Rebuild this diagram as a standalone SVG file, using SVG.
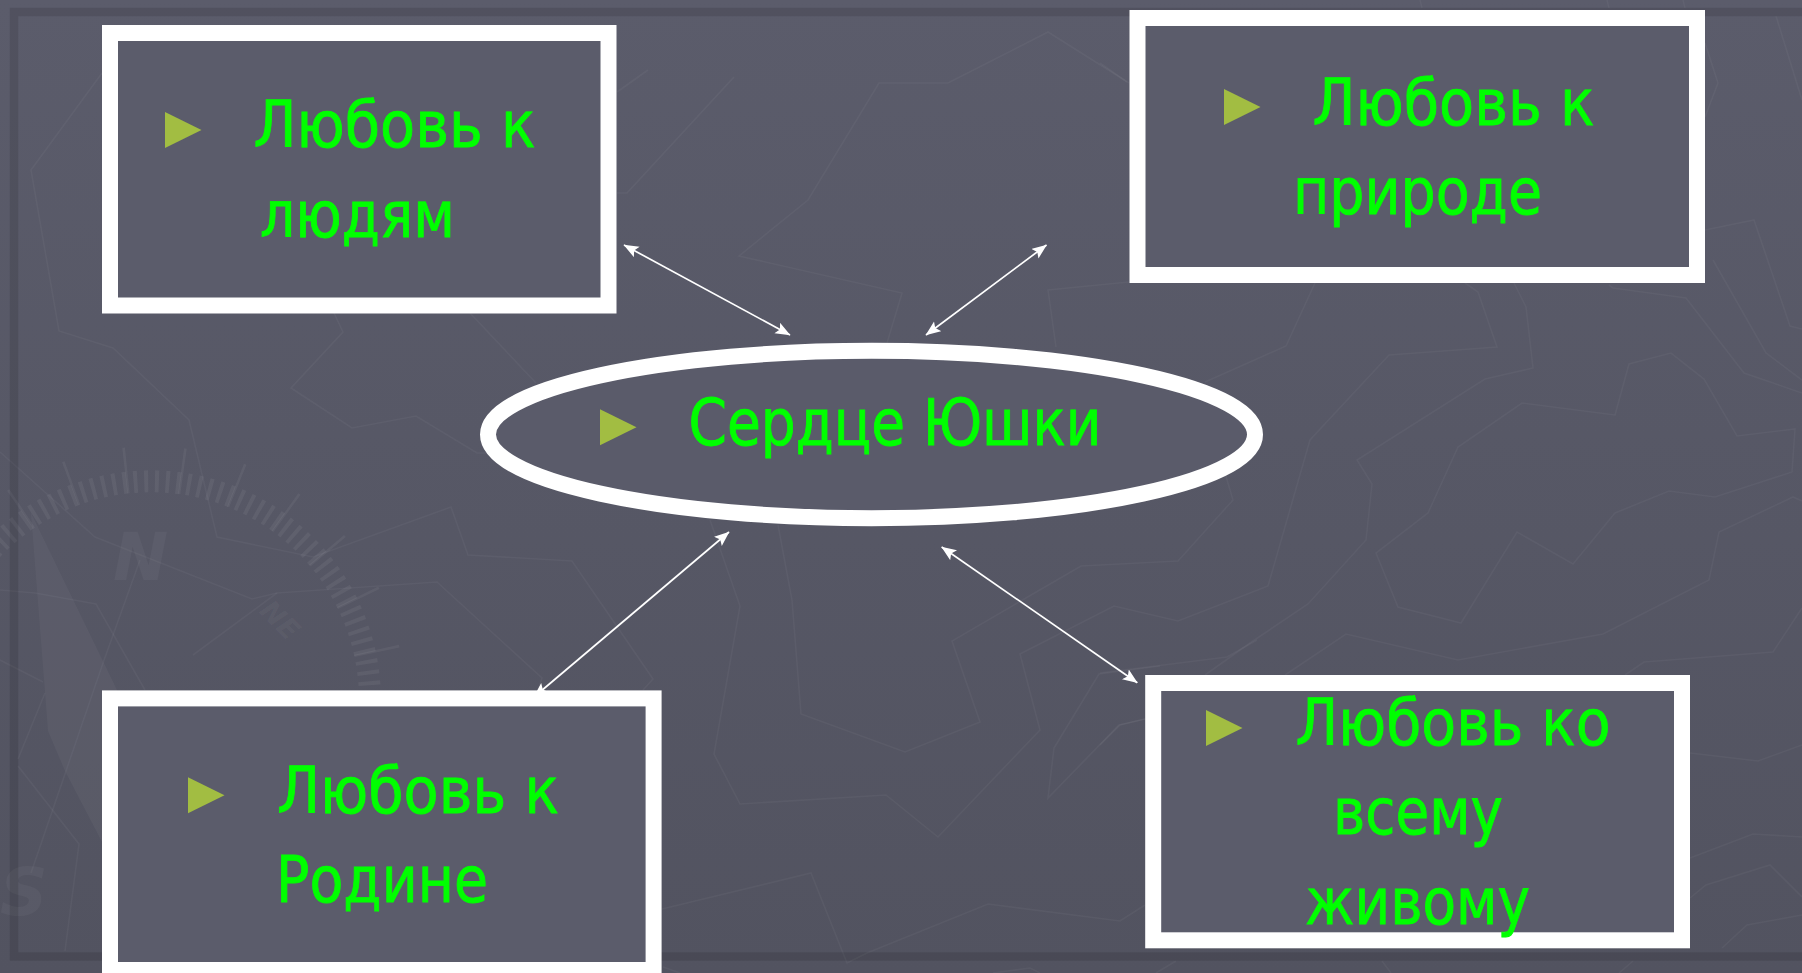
<svg xmlns="http://www.w3.org/2000/svg" width="1802" height="973" viewBox="0 0 1802 973">
<style>
.bgl{fill:none;stroke:#fff;stroke-opacity:.04;stroke-width:1.6;stroke-linejoin:miter}
.box{fill:#5b5c6b;stroke:#fff;stroke-width:16}
.t{font-family:"DejaVu Sans","Liberation Sans",sans-serif;font-size:64px;fill:#00ff00;stroke:#00ff00;stroke-width:.9}
.b{fill:#a2bd42}
.c{stroke:#fff;stroke-width:1.7;fill:none;marker-start:url(#ah);marker-end:url(#ah)}
.bt{font-family:"DejaVu Sans","Liberation Sans",sans-serif;font-weight:bold;font-style:italic;fill:#fff;fill-opacity:.04}
</style>
<defs>
<linearGradient id="bg" x1="0" y1="0" x2="0" y2="1"><stop offset="0" stop-color="#5b5c6b"/><stop offset="1" stop-color="#525360"/></linearGradient>
<marker id="ah" markerUnits="userSpaceOnUse" markerWidth="16" markerHeight="14" refX="14.5" refY="6" orient="auto-start-reverse"><path d="M0 0L15 6L0 12L3 6Z" fill="#fff"/></marker>
</defs>
<g id="background">
<rect width="1802" height="973" fill="url(#bg)"/>
<g class="bgl">
<polyline points="102,73 31,170 59,331 113,348 189,420 217,537 313,557 451,507 468,555 572,561 653,679 643,690"/>
<polyline points="334,313 343,332 291,388 352,428 416,416 477,453 490,453"/>
<polyline points="470,313 536,383"/>
<polyline points="0,452 18,468 95,537 252,599 277,593 437,582 542,678 538,690"/>
<polyline points="193,655 277,593"/>
<polyline points="140,560 103,663 66,771 31,873"/>
<polyline points="0,590 35,593 96,604 145,690"/>
<polyline points="18,766 79,844 65,951"/>
<polyline points="0,660 43,682"/>
<polyline points="45,693 18,759"/>
<polyline points="617,92 648,70"/>
<polyline points="617,193 627,193 734,77"/>
<polyline points="1129,83 1048,32 948,83 879,83 808,200 739,256 902,293 887,343"/>
<polyline points="1129,282 1048,290 1056,347"/>
<polyline points="710,520 740,606 714,754 740,804 886,795 938,837 1040,730 1020,654 1114,606 1178,621 1250,593 1268,586 1310,440 1389,355 1497,347 1478,292 1465,283"/>
<polyline points="778,525 792,600 801,714 905,752 980,722 952,641 1081,566 1178,561 1233,500 1225,473"/>
<polyline points="1160,666 1099,674 1054,748 1048,798 1119,725 1145,719"/>
<polyline points="662,909 811,873 843,953 847,963 867,953 988,904 1120,921 1145,905"/>
<polyline points="1315,283 1286,346 1250,362 1205,382"/>
<polyline points="1257,640 1227,657 1100,673"/>
<polyline points="1514,283 1526,307 1533,368 1485,379 1357,460 1372,484 1366,540 1308,604 1250,643 1205,675"/>
<polyline points="1100,745 1120,725 1145,719"/>
<polyline points="1609,285 1613,288 1686,298 1744,373 1802,393"/>
<polyline points="1713,260 1766,353 1802,380"/>
<polyline points="1705,230 1754,220 1771,270 1790,326 1802,329"/>
<polygon points="1615,415 1522,403 1458,447 1428,513 1376,553 1398,607 1461,623 1517,532 1573,564 1615,513 1669,491 1715,497 1792,472 1795,429 1737,436 1704,379 1671,353 1629,364"/>
<polyline points="1285,675 1346,634 1458,660 1603,634 1709,580 1719,532 1793,497 1802,501"/>
<polyline points="1625,675 1644,662 1773,652 1802,608"/>
<polyline points="1690,753 1758,761 1802,745"/>
<polyline points="1690,858 1753,834 1802,837"/>
<polyline points="1690,898 1706,885 1770,865 1802,897"/>
<polyline points="1722,948 1747,925 1802,915"/>
<polyline points="1705,43 1718,83 1705,117"/>
<polyline points="1100,63 1127,82"/>
<polyline points="1776,16 1802,100"/>
<polyline points="1156,973 1176,961"/>
<polyline points="1382,961 1391,973"/>
<polyline points="1619,973 1633,961"/>
<polyline points="663,967 680,973"/>
<polyline points="993,973 1030,968 1040,973"/>
<polyline points="1420,0 1422,8"/>
<polyline points="1607,0 1609,8"/>
<polyline points="1683,0 1685,8"/>
</g>
<path d="M-22 566A219 219 0 0 1 370 700" fill="none" stroke="#fff" stroke-opacity=".055" stroke-width="22" stroke-dasharray="4 6.7"/>
<path d="M-22 547A231 231 0 0 1 382 700" fill="none" stroke="#fff" stroke-opacity=".05" stroke-width="46" stroke-dasharray="2.5 53.9"/>
<polygon points="31,513 117,690 102,842 65,771 48,731" fill="#fff" fill-opacity=".035"/>
<text class="bt" x="113" y="580" font-size="66">N</text>
<text class="bt" transform="translate(258 612) rotate(45)" font-size="28">NE</text>
<text class="bt" x="0" y="915" font-size="66">S</text>
<rect x="14" y="12" width="2000" height="944.5" fill="none" stroke="#000" stroke-opacity=".11" stroke-width="8.5"/>
</g>
<g id="connectors">
<line class="c" x1="624" y1="245" x2="790" y2="335"/>
<line class="c" x1="1046.5" y1="245" x2="926" y2="335"/>
<line class="c" x1="729" y1="532" x2="534" y2="697"/>
<line class="c" x1="941.7" y1="547" x2="1137.3" y2="682.7"/>
</g>
<g id="node-people">
<rect class="box" x="110" y="33" width="498.5" height="272.5"/>
<polygon class="b" points="165,112 201.5,130 165,148"/>
<text class="t" x="253.5" y="146.7" textLength="282" lengthAdjust="spacingAndGlyphs">Любовь к</text>
<text class="t" x="260" y="236.7" textLength="195" lengthAdjust="spacingAndGlyphs">людям</text>
</g>
<g id="node-nature">
<rect class="box" x="1137.5" y="18" width="559.5" height="257"/>
<polygon class="b" points="1224,89 1260.5,107 1224,125"/>
<text class="t" x="1312.5" y="125" textLength="282" lengthAdjust="spacingAndGlyphs">Любовь к</text>
<text class="t" x="1293" y="214" textLength="249" lengthAdjust="spacingAndGlyphs">природе</text>
</g>
<g id="node-heart">
<ellipse cx="871.5" cy="434.5" rx="383.5" ry="83.7" fill="#5a5b6a" stroke="#fff" stroke-width="16"/>
<polygon class="b" points="600,409.3 636.5,427.3 600,445.3"/>
<text class="t" x="688.5" y="445" textLength="413" lengthAdjust="spacingAndGlyphs">Сердце Юшки</text>
</g>
<g id="node-homeland">
<rect class="box" x="110" y="698.4" width="543.6" height="271.6"/>
<polygon class="b" points="188,777.3 224.5,795.3 188,813.3"/>
<text class="t" x="277" y="812.6" textLength="282" lengthAdjust="spacingAndGlyphs">Любовь к</text>
<text class="t" x="276" y="902" textLength="212" lengthAdjust="spacingAndGlyphs">Родине</text>
</g>
<g id="node-living">
<rect class="box" x="1153.2" y="683" width="528.8" height="257.3"/>
<polygon class="b" points="1206,710 1242.5,728 1206,746"/>
<text class="t" x="1295.5" y="745.3" textLength="315" lengthAdjust="spacingAndGlyphs">Любовь ко</text>
<text class="t" x="1333" y="834.3" textLength="170" lengthAdjust="spacingAndGlyphs">всему</text>
<text class="t" x="1305" y="924.3" textLength="225" lengthAdjust="spacingAndGlyphs">живому</text>
</g>
</svg>
